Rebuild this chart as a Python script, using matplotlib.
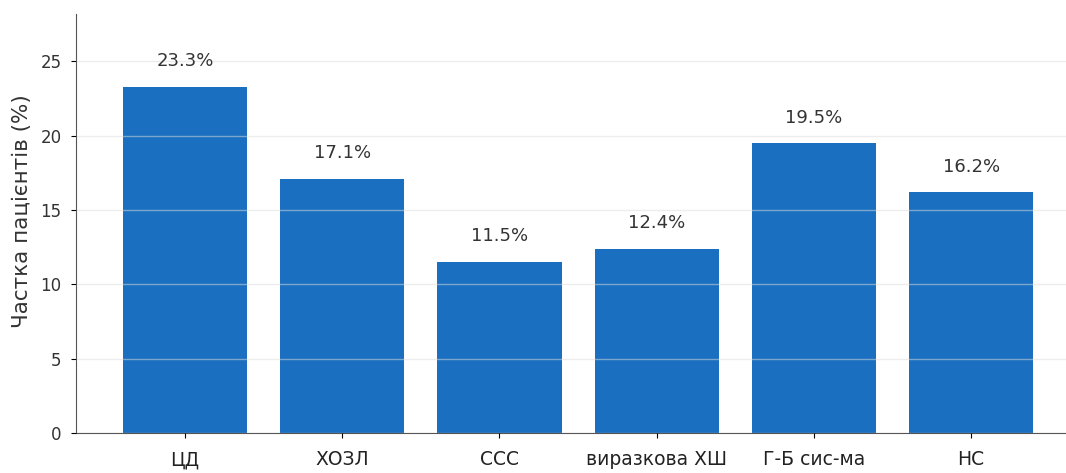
import matplotlib as mpl
mpl.use('Agg')
import matplotlib.pyplot as plt

# Share of patients by comorbidity
categories = ["ЦД", "ХОЗЛ", "ССС", "виразкова ХШ", "Г-Б сис-ма", "НС"]
shares = [23.3, 17.1, 11.5, 12.4, 19.5, 16.2]
yticks = [0, 5, 10, 15, 20, 25]

plt.rcParams['font.family'] = ['DejaVu Sans']

fig = plt.figure(figsize=(10.66, 4.73), dpi=100)
ax = fig.add_axes([0.0713, 0.0846, 0.94, 0.886])

x = list(range(len(categories)))
ax.bar(x, shares, width=0.79, color='#1a6fc0', zorder=1)

for xi, v in zip(x, shares):
    ax.annotate(f"{v}%", (xi, v), xytext=(0, 18.5), textcoords='offset points',
                ha='center', va='center', fontsize=13, color='#333333')

ax.set_xticks(x)
ax.set_xticklabels(categories, fontsize=13.5, color='#222222')
ax.tick_params(axis='x', pad=9)
ax.set_yticks(yticks)
ax.tick_params(axis='y', labelsize=12, labelcolor='#333333', pad=7)
ax.set_ylabel("Частка пацієнтів (%)", fontsize=15.5, color='#333333', labelpad=6, y=0.53)

ax.set_ylim(0, 28.2)
ax.set_xlim(-0.693, 5.68)

ax.yaxis.grid(True, color='#dddddd', alpha=0.5, linewidth=1.0, zorder=2)
ax.set_axisbelow(False)

for side in ['top', 'right']:
    ax.spines[side].set_visible(False)
for side in ['left', 'bottom']:
    ax.spines[side].set_color('#555555')

fig.savefig('out.png', dpi=100)
